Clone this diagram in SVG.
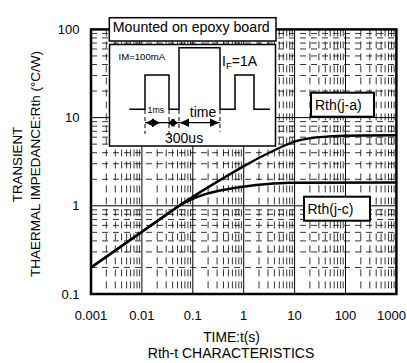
<svg xmlns="http://www.w3.org/2000/svg" width="407" height="363" viewBox="0 0 407 363">
<style>
text{font-family:"Liberation Sans",Arial,sans-serif;fill:#000}
.minv{fill:none;stroke:#000;stroke-width:0.8;stroke-dasharray:7 5}
.minh{fill:none;stroke:#000;stroke-width:0.8;stroke-dasharray:6 5}
.maj{fill:none;stroke:#000;stroke-width:1}
.frame{fill:none;stroke:#000;stroke-width:2.5}
.curve{fill:none;stroke:#000;stroke-width:2.4}
.box{fill:#fff;stroke:#000;stroke-width:1.5}
.lbox{fill:#fff;stroke:#000;stroke-width:2}
.dash{fill:none;stroke:#000;stroke-width:1;stroke-dasharray:4 3}
.wave{fill:none;stroke:#000;stroke-width:1.5}
.tick{font-size:13px}
</style>
<g id="grid">
<path class="minv" d="M106.3,29.4V294M115.3,29.4V294M121.6,29.4V294M126.6,29.4V294M130.6,29.4V294M134,29.4V294M137,29.4V294M139.6,29.4V294M157.2,29.4V294M166.2,29.4V294M172.6,29.4V294M177.5,29.4V294M181.5,29.4V294M184.9,29.4V294M187.9,29.4V294M190.5,29.4V294M208.1,29.4V294M217.1,29.4V294M223.5,29.4V294M228.4,29.4V294M232.4,29.4V294M235.8,29.4V294M238.8,29.4V294M241.4,29.4V294M259,29.4V294M268,29.4V294M274.4,29.4V294M279.3,29.4V294M283.3,29.4V294M286.7,29.4V294M289.7,29.4V294M292.3,29.4V294M309.9,29.4V294M318.9,29.4V294M325.3,29.4V294M330.2,29.4V294M334.2,29.4V294M337.6,29.4V294M340.6,29.4V294M343.2,29.4V294M360.8,29.4V294M369.8,29.4V294M376.2,29.4V294M381.1,29.4V294M385.1,29.4V294M388.5,29.4V294M391.5,29.4V294M394.1,29.4V294"/>
<path class="minh" d="M91,267.45H396.4M91,251.92H396.4M91,240.9H396.4M91,232.35H396.4M91,225.37H396.4M91,219.46H396.4M91,214.35H396.4M91,209.84H396.4M91,179.25H396.4M91,163.72H396.4M91,152.7H396.4M91,144.15H396.4M91,137.17H396.4M91,131.26H396.4M91,126.15H396.4M91,121.64H396.4M91,91.05H396.4M91,75.52H396.4M91,64.5H396.4M91,55.95H396.4M91,48.97H396.4M91,43.06H396.4M91,37.95H396.4M91,33.44H396.4"/>
<path class="maj" d="M141.9,29.4V294M192.8,29.4V294M243.7,29.4V294M294.6,29.4V294M345.5,29.4V294M91,117.6H396.4M91,205.8H396.4"/>
<rect class="frame" x="91" y="29.4" width="305.4" height="264.6"/>
</g>
<g id="axis-labels">
<text class="tick" x="79.5" y="34" text-anchor="end">100</text>
<text class="tick" x="79.5" y="122.2" text-anchor="end">10</text>
<text class="tick" x="79.5" y="210.4" text-anchor="end">1</text>
<text class="tick" x="79.5" y="298.7" text-anchor="end">0.1</text>
<text class="tick" x="91" y="320" text-anchor="middle">0.001</text>
<text class="tick" x="141.9" y="320" text-anchor="middle">0.01</text>
<text class="tick" x="192.8" y="320" text-anchor="middle">0.1</text>
<text class="tick" x="243.7" y="320" text-anchor="middle">1</text>
<text class="tick" x="294.6" y="320" text-anchor="middle">10</text>
<text class="tick" x="345.5" y="320" text-anchor="middle">100</text>
<text class="tick" x="391.5" y="320" text-anchor="middle">1000</text>
<text x="231.5" y="341.5" font-size="13.8" text-anchor="middle">TIME:t(s)</text>
<text x="231" y="358" font-size="14" text-anchor="middle">Rth-t CHARACTERISTICS</text>
<text transform="translate(21.5,164.5) rotate(-90)" font-size="13.3" text-anchor="middle">TRANSIENT</text>
<text transform="translate(39.5,164) rotate(-90)" font-size="13.5" text-anchor="middle">THAERMAL IMPEDANCE:Rth (°C/W)</text>
</g>
<g id="connectors">
<path id="curve-ja" class="curve" d="M91,267.4L178,206.5C200,191.5 225,177 243,166.6C260,157 278,148 293,142C310,136.5 330,135.3 396.4,135.3"/>
<path id="curve-jc" class="curve" d="M91,267.4L178,206.5C190,198.5 205,193.5 220,190.5C240,186.8 260,183.5 290,182.8L396.4,182.5"/>
</g>
<g id="node-mounted">
<rect class="box" x="109.3" y="17.7" width="166.7" height="23.3"/>
<text x="112.8" y="32" font-size="14.2">Mounted on epoxy board</text>
</g>
<g id="node-pulse">
<rect class="box" x="109.5" y="44.5" width="166" height="101.5"/>
<text x="118.5" y="59.5" font-size="9.6">IM=100mA</text>
<path class="wave" d="M129.3,109.3H145V75H169V109.3H179V47.7H220V109.3H235V75H254V109.3H270"/>
<text x="222" y="66" font-size="14">I<tspan font-size="9.5" dy="3">F</tspan><tspan dy="-3">=1A</tspan></text>
<text x="147.5" y="112.8" font-size="8.8">1ms</text>
<path class="dash" d="M145,110V134M169,110V135M179,110V128M220,110V132"/>
<path d="M145,122.7H220" stroke="#000" stroke-width="1.2" fill="none"/>
<polygon points="146,122.7 154,118.5 154,126.9"/>
<polygon points="152,118.5 160,122.7 152,126.9"/>
<polygon points="167,122.7 174.5,118.5 174.5,126.9"/>
<polygon points="171.5,118.5 178.5,122.7 171.5,126.9"/>
<polygon points="180,122.7 189,118.5 189,126.9"/>
<polygon points="210,118.5 219,122.7 210,126.9"/>
<text x="189.8" y="116.5" font-size="14">time</text>
<text x="165" y="142.5" font-size="14">300us</text>
</g>
<g id="node-rth-ja">
<rect class="lbox" x="311" y="92.7" width="63" height="24"/>
<text x="315" y="109.5" font-size="14">Rth(j-a)</text>
</g>
<g id="node-rth-jc">
<rect class="lbox" x="304" y="196.7" width="66" height="24"/>
<text x="307.5" y="213.5" font-size="14">Rth(j-c)</text>
</g>
</svg>
